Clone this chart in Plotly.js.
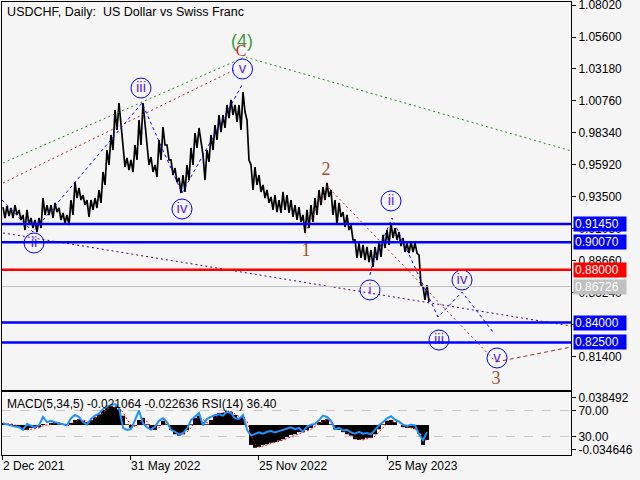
<!DOCTYPE html>
<html>
<head>
<meta charset="utf-8">
<script src="https://cdn.plot.ly/plotly-3.0.1.min.js"></script>
<style>html,body{margin:0;padding:0;background:#f5f5f5;}#chart{width:640px;height:480px;}</style>
</head>
<body>
<div id="chart"></div>
<script>
// ---- data (one sample every 4 daily bars) ----
const dateTickIdx = [0, 128, 256, 385];
const dateTickLabels = ['2 Dec 2021', '31 May 2022', '25 Nov 2022', '25 May 2023'];

const priceHigh = [
0.9274,0.9282,0.9267,0.9289,0.9252,0.9214,0.9252,0.9191,0.9176,0.9191,
0.9342,0.9289,0.9289,0.9305,0.9267,0.9229,0.9214,0.9327,0.9463,0.9418,
0.9365,0.9327,0.9327,0.9342,0.9403,0.9539,0.9705,0.9819,1.0008,1.0061,
0.9705,0.9645,0.9630,0.9743,0.9932,1.0061,0.9705,0.9652,0.9592,0.9781,
0.9879,0.9743,0.9630,0.9569,0.9494,0.9516,0.9592,0.9721,0.9834,0.9872,
0.9668,0.9705,0.9819,0.9894,0.9970,0.9970,1.0046,1.0084,1.0046,1.0046,
1.0144,0.9932,0.9592,0.9577,0.9516,0.9441,0.9403,0.9350,0.9365,0.9327,
0.9388,0.9365,0.9327,0.9289,0.9274,0.9214,0.9252,0.9289,0.9342,0.9403,
0.9425,0.9456,0.9403,0.9327,0.9305,0.9236,0.9214,0.9138,0.9025,0.9002,
0.8987,0.8972,0.8949,0.8972,0.9002,0.9063,0.9100,0.9153,0.9115,0.9085,
0.9040,0.9002,0.9010,0.9002,0.8911,0.8669,0.8684];
const priceLow = [
0.9191,0.9206,0.9191,0.9214,0.9176,0.9100,0.9138,0.9115,0.9085,0.9115,
0.9214,0.9214,0.9191,0.9236,0.9176,0.9153,0.9138,0.9214,0.9342,0.9327,
0.9289,0.9199,0.9252,0.9267,0.9305,0.9441,0.9592,0.9705,0.9857,0.9894,
0.9577,0.9554,0.9539,0.9630,0.9743,0.9894,0.9592,0.9539,0.9501,0.9630,
0.9743,0.9630,0.9516,0.9463,0.9380,0.9388,0.9478,0.9592,0.9721,0.9766,
0.9478,0.9615,0.9705,0.9781,0.9841,0.9872,0.9947,0.9970,0.9917,0.9857,
0.9993,0.9630,0.9403,0.9441,0.9388,0.9342,0.9305,0.9252,0.9236,0.9229,
0.9252,0.9229,0.9199,0.9176,0.9161,0.9078,0.9115,0.9161,0.9214,0.9289,
0.9327,0.9350,0.9214,0.9138,0.9199,0.9123,0.9100,0.9025,0.8889,0.8889,
0.8873,0.8858,0.8821,0.8873,0.8896,0.8964,0.8987,0.9040,0.9025,0.8979,
0.8934,0.8926,0.8934,0.8926,0.8684,0.8571,0.8556];

const macdMain = [
0.003,0.0014,0.001,-0.0014,-0.004,-0.007,-0.007,-0.004,-0.004,-0.003,
0.0014,0,0.003,0.004,0.001,0,-0.0014,0.003,0.007,0.008,
0.006,0.004,0.007,0.011,0.015,0.021,0.025,0.027,0.025,0.022,
0.013,0.001,-0.004,-0.001,0.007,0.010,0.001,-0.006,-0.007,-0.001,
0.006,0.001,-0.007,-0.013,-0.015,-0.013,-0.007,0.001,0.010,0.013,
0.004,0.001,0.007,0.013,0.017,0.017,0.020,0.018,0.014,0.010,
0.011,0,-0.028,-0.032,-0.031,-0.028,-0.027,-0.025,-0.024,-0.022,
-0.020,-0.017,-0.014,-0.013,-0.010,-0.010,-0.007,-0.004,0,0.004,
0.007,0.008,0.001,-0.006,-0.007,-0.010,-0.013,-0.015,-0.020,-0.021,
-0.020,-0.018,-0.018,-0.013,-0.006,0.001,0.006,0.007,0.004,0,
-0.003,-0.004,-0.004,-0.006,-0.012,-0.028,-0.021064];
const macdSignal = [
0.002,0.002,0.0015,0,-0.002,-0.004,-0.006,-0.006,-0.005,-0.004,
-0.001,0,0.001,0.003,0.003,0.001,0,0.001,0.004,0.007,
0.007,0.005,0.005,0.008,0.012,0.017,0.022,0.025,0.026,0.024,
0.018,0.008,0,-0.002,0.003,0.008,0.005,-0.002,-0.006,-0.004,
0.002,0.003,-0.003,-0.009,-0.013,-0.014,-0.010,-0.004,0.005,0.011,
0.008,0.003,0.004,0.010,0.015,0.017,0.019,0.019,0.016,0.012,
0.011,0.005,-0.014,-0.027,-0.031,-0.030,-0.028,-0.026,-0.025,-0.023,
-0.021,-0.019,-0.016,-0.014,-0.012,-0.010,-0.009,-0.006,-0.002,0.002,
0.005,0.007,0.005,-0.001,-0.005,-0.008,-0.011,-0.014,-0.017,-0.020,
-0.021,-0.019,-0.018,-0.016,-0.010,-0.004,0.002,0.005,0.006,0.003,
0,-0.003,-0.004,-0.005,-0.008,-0.018,-0.022636];
const rsi = [
50,48,46,45,44,40,49,46,44,47,
60,52,54,52,50,48,47,58,63,60,
52,48,57,62,65,72,76,78,80,74,
43,40,41,55,70,50,44,40,45,54,
58,52,40,37,33,35,42,55,61,66,
47,57,60,63,64,62,68,66,58,57,
63,40,31,34,36,34,37,38,36,38,
40,42,44,41,43,37,45,48,49,55,
62,60,54,41,43,39,40,36,34,37,
34,35,33,40,47,52,58,61,56,53,
48,46,48,47,33,24,36.4];

// horizontal levels
const levelValues = [0.91450, 0.90070, 0.88000, 0.86726, 0.84000, 0.82500];
const levelColors = ['#0000ff', '#0000ff', '#ff0000', '#c0c0c0', '#0000ff', '#0000ff'];
const levelWidths = [2.5, 2.5, 2.5, 1, 2.5, 2.5];

// price axis ticks
const priceTicks = [1.08020,1.05600,1.03180,1.00760,0.98340,0.95920,0.93500,0.91080,0.88660,0.86240,0.83820,0.81400];

// Elliott wave lines (bar index, price)
const greenIdx = [1, 243, 569];            const greenPx = [0.9607, 1.0409, 0.9699];
const redAIdx = [1, 232];                  const redAPx = [0.9456, 1.0310];
const blueAIdx = [0, 31, 140, 180, 240];   const blueAPx = [0.9327, 0.9085, 1.0061, 0.9380, 1.0197];
const blueBIdx = [368, 370, 390, 436, 460, 491]; const blueBPx = [0.8760, 0.8828, 0.9191, 0.8442, 0.8631, 0.8329];
const redBIdx = [303, 325, 494];           const redBPx = [0.9078, 0.9433, 0.8102];
const redCIdx = [494, 569];                const redCPx = [0.8102, 0.8215];
const purpleIdx = [1, 569];                const purplePx = [0.9078, 0.8374];

// wave labels
const circLabels = ['ii', 'iii', 'iv', 'v', 'i', 'ii', 'iii', 'iv', 'v'];
const circIdx = [32, 139, 180, 240.5, 368, 389, 437, 460, 495];
const circPx = [0.9002, 1.0174, 0.9259, 1.0318, 0.8647, 0.9320, 0.8268, 0.8722, 0.8132];
const numLabels = ['1', '2', '3'];
const numIdx = [304, 324, 494];
const numPx = [0.8934, 0.9547, 0.7973];
const bigLabel = ['(4)']; const bigIdx = [240]; const bigPx = [1.0522];
const cLabel = ['C']; const cIdx = [239]; const cPx = [1.0447];

// ---- build traces ----
const sampleIdx = priceHigh.map((_, k) => k * 4 + 1);
const zx = [], zy = [];
for (let k = 0; k < priceHigh.length; k++) {
  zx.push(sampleIdx[k], sampleIdx[k] + 2);
  zy.push(priceHigh[k], priceLow[k]);
}

const traces = [
  {x: zx, y: zy, xaxis: 'x', yaxis: 'y', mode: 'lines', line: {color: '#000', width: 1.7}},
  {x: greenIdx, y: greenPx, xaxis: 'x', yaxis: 'y', mode: 'lines', line: {color: '#228b22', width: 1, dash: '2px,3px'}},
  {x: redAIdx, y: redAPx, xaxis: 'x', yaxis: 'y', mode: 'lines', line: {color: '#a52a2a', width: 1, dash: '2px,3px'}},
  {x: purpleIdx, y: purplePx, xaxis: 'x', yaxis: 'y', mode: 'lines', line: {color: '#4b0082', width: 1, dash: '2px,3px'}},
  {x: blueAIdx, y: blueAPx, xaxis: 'x', yaxis: 'y', mode: 'lines', line: {color: '#0000ff', width: 1, dash: '3px,3px'}},
  {x: blueBIdx, y: blueBPx, xaxis: 'x', yaxis: 'y', mode: 'lines', line: {color: '#0000ff', width: 1, dash: '3px,3px'}},
  {x: redBIdx, y: redBPx, xaxis: 'x', yaxis: 'y', mode: 'lines', line: {color: '#a52a2a', width: 1, dash: '2px,3px'}},
  {x: redCIdx, y: redCPx, xaxis: 'x', yaxis: 'y', mode: 'lines', line: {color: '#a52a2a', width: 1, dash: '4px,3px'}},
  {x: circIdx, y: circPx, text: circLabels, xaxis: 'x', yaxis: 'y', mode: 'markers+text', textposition: 'middle center',
   marker: {symbol: 'circle-open', size: 20, color: '#0000ff', line: {width: 1}},
   textfont: {family: 'Liberation Sans, Arial, sans-serif', size: 15, color: '#5b2ee0'}, cliponaxis: false},
  {x: numIdx, y: numPx, text: numLabels, xaxis: 'x', yaxis: 'y', mode: 'text', textposition: 'middle center',
   textfont: {family: 'Liberation Serif, Times New Roman, serif', size: 18, color: '#a0522d'}, cliponaxis: false},
  {x: bigIdx, y: bigPx, text: bigLabel, xaxis: 'x', yaxis: 'y', mode: 'text', textposition: 'middle center',
   textfont: {family: 'Liberation Sans, Arial, sans-serif', size: 18, color: '#3a9a3a'}, cliponaxis: false},
  {x: cIdx, y: cPx, text: cLabel, xaxis: 'x', yaxis: 'y', mode: 'text', textposition: 'middle center',
   textfont: {family: 'Liberation Serif, Times New Roman, serif', size: 16, color: '#c03030'}, cliponaxis: false},
  // indicator panel
  {type: 'bar', x: sampleIdx, y: macdMain, width: 4, xaxis: 'x2', yaxis: 'y2', marker: {color: '#000', line: {width: 0}}},
  {x: sampleIdx, y: macdSignal, xaxis: 'x2', yaxis: 'y2', mode: 'lines', line: {color: '#ff0000', width: 1, dash: '2px,2px'}},
  {x: sampleIdx, y: rsi, xaxis: 'x2', yaxis: 'y3', mode: 'lines', line: {color: '#1e90ff', width: 2}}
];

const shapes = levelValues.map((v, i) => ({
  type: 'line', xref: 'x domain', yref: 'y', x0: 0, x1: 1, y0: v, y1: v,
  line: {color: levelColors[i], width: levelWidths[i]}
}));

const annotations = levelValues.map((v, i) => ({
  xref: 'paper', x: 1, xanchor: 'left', xshift: 2, yref: 'y', y: v, yanchor: 'middle',
  text: v.toFixed(5), showarrow: false, bgcolor: levelColors[i], borderpad: 1,
  width: 50, height: 12, align: 'left',
  font: {family: 'Liberation Sans, Arial, sans-serif', size: 12, color: '#ffffff'}
}));
annotations.push({
  xref: 'paper', x: 0.005, xanchor: 'left', yref: 'paper', y: 0.1126, yanchor: 'middle',
  text: 'MACD(5,34,5) -0.021064 -0.022636 RSI(14) 36.40', showarrow: false,
  font: {family: 'Liberation Sans, Arial, sans-serif', size: 12, color: '#000'}
});

const axisCommon = {showgrid: false, zeroline: false, linecolor: '#000', linewidth: 1, tickcolor: '#000', ticklabeloverflow: 'allow'};

const layout = {
  width: 640, height: 480,
  margin: {l: 2, r: 69, t: 2, b: 25, pad: 0},
  paper_bgcolor: '#f5f5f5', plot_bgcolor: '#f5f5f5',
  showlegend: false, hovermode: false,
  font: {family: 'Liberation Sans, Arial, sans-serif', size: 12, color: '#000'},
  title: {text: 'USDCHF, Daily:  US Dollar vs Swiss Franc', xref: 'paper', x: 0.009, xanchor: 'left',
          yref: 'container', y: 0.975, yanchor: 'middle', font: {size: 12.5, color: '#000'}},
  xaxis: Object.assign({}, axisCommon, {domain: [0, 1], anchor: 'y', matches: 'x2', showticklabels: false, ticks: '', showline: true, mirror: true}),
  yaxis: Object.assign({}, axisCommon, {domain: [0.1435, 1], anchor: 'x', side: 'right', range: [0.78902, 1.08247],
          tickvals: priceTicks, ticktext: priceTicks.map(v => v.toFixed(5)), ticks: 'outside', ticklen: 4,
          showline: true, mirror: true}),
  xaxis2: Object.assign({}, axisCommon, {domain: [0, 1], anchor: 'y2', range: [0, 569], tickvals: dateTickIdx, ticktext: dateTickLabels,
          ticks: 'outside', ticklen: 4, ticklabelposition: 'outside right', showline: true, mirror: true}),
  yaxis2: Object.assign({}, axisCommon, {domain: [0, 0.1391], anchor: 'x2', side: 'right', range: [-0.042195, 0.046415],
          tickvals: [0.038492, -0.034646], ticktext: ['0.038492', '-0.034646'], ticks: 'outside', ticklen: 4,
          showline: true, mirror: true}),
  yaxis3: Object.assign({}, axisCommon, {overlaying: 'y2', anchor: 'x2', side: 'right', range: [1.0, 98.7],
          tickvals: [70, 30], ticktext: ['70.00', '30.00'], ticks: 'outside', ticklen: 4,
          showgrid: true, gridcolor: '#c8c8c8', griddash: 'dash', gridwidth: 1, showline: false}),
  shapes: shapes,
  annotations: annotations
};

Plotly.newPlot('chart', traces, layout, {displayModeBar: false, staticPlot: true});
</script>
</body>
</html>
